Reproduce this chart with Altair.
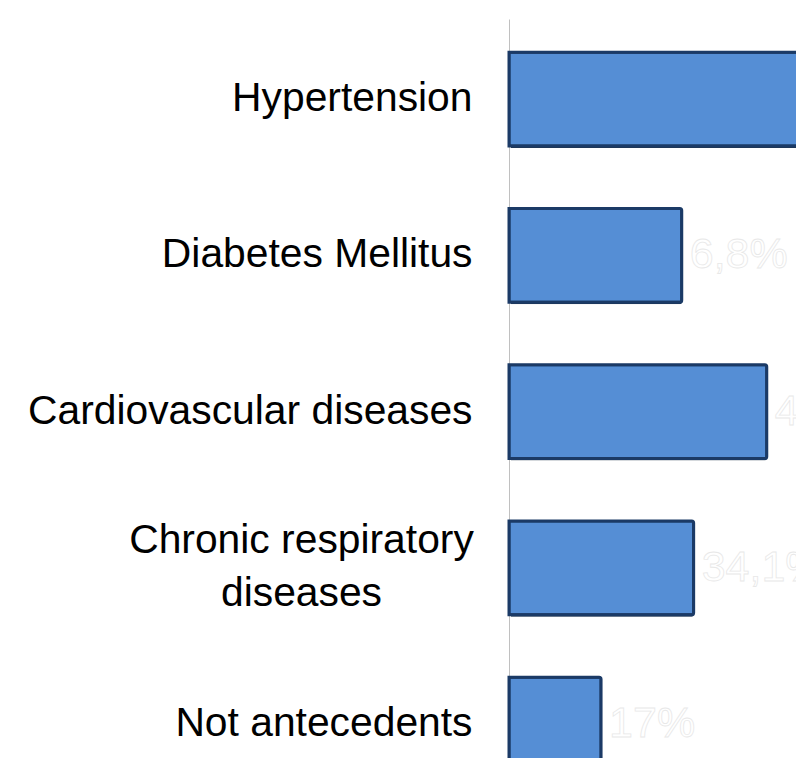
import altair as alt
import pandas as pd

categories = ["Hypertension", "Diabetes Mellitus", "Cardiovascular diseases",
              "Chronic respiratory diseases", "Not antecedents"]
values = [58.1, 31.9, 47.6, 34.1, 17.0]
labels = ["", "6,8%", "47,6%", "34,1%", "17%"]

df = pd.DataFrame({"cat": categories, "val": values, "lab": labels})

multi = "Chronic respiratory diseases"

y_scale = alt.Scale(range=[0, 752], paddingInner=0.4, paddingOuter=0.106, align=1)

y_enc = alt.Y(
    "cat:N",
    sort=categories,
    title=None,
    scale=y_scale,
    axis=alt.Axis(
        ticks=False,
        grid=False,
        domainColor="#c0c0c0",
        domainWidth=1,
        labelFont="Liberation Sans",
        labelFontSize=40.8,
        labelColor="#000000",
        labelLimit=0,
        labelLineHeight=53,
        labelExpr=f"datum.value == '{multi}' ? ['Chronic respiratory', 'diseases'] : datum.label",
        labelAlign=alt.condition(f"datum.value == '{multi}'", alt.value("center"), alt.value("right")),
        labelPadding=alt.condition(f"datum.value == '{multi}'", alt.value(208), alt.value(37)),
        labelOffset=alt.condition(f"datum.value == '{multi}'", alt.value(-27), alt.value(0)),
    ),
)

x_enc = alt.X("val:Q", axis=None, scale=alt.Scale(domain=[0, 53], nice=False, zero=True))

base = alt.Chart(df)

shadow = base.mark_bar(fill="#0b1f3a", xOffset=2, yOffset=2,
                       cornerRadiusEnd=2, fillOpacity=0.9).encode(x=x_enc, y=y_enc)
bars = base.mark_bar(fill="#558ed5", stroke="#1b3a66", strokeWidth=3,
                     cornerRadiusEnd=2, fillOpacity=1).encode(x=x_enc, y=y_enc)
text = base.mark_text(align="left", baseline="middle", dx=8, fontSize=43,
                      font="Liberation Sans", fill="#ffffff", stroke="#e8e8e8",
                      strokeWidth=0.8).encode(
    x=x_enc, y=alt.Y("cat:N", sort=categories, scale=y_scale), text="lab:N")

chart = (shadow + bars + text).properties(
    width=287,
    height=739,
    autosize=alt.AutoSizeParams(type="none"),
    padding={"left": 501, "top": 11, "right": 0, "bottom": 0},
).configure_view(stroke=None)

chart.save("out.html", embed_options={"renderer": "svg", "actions": False})
